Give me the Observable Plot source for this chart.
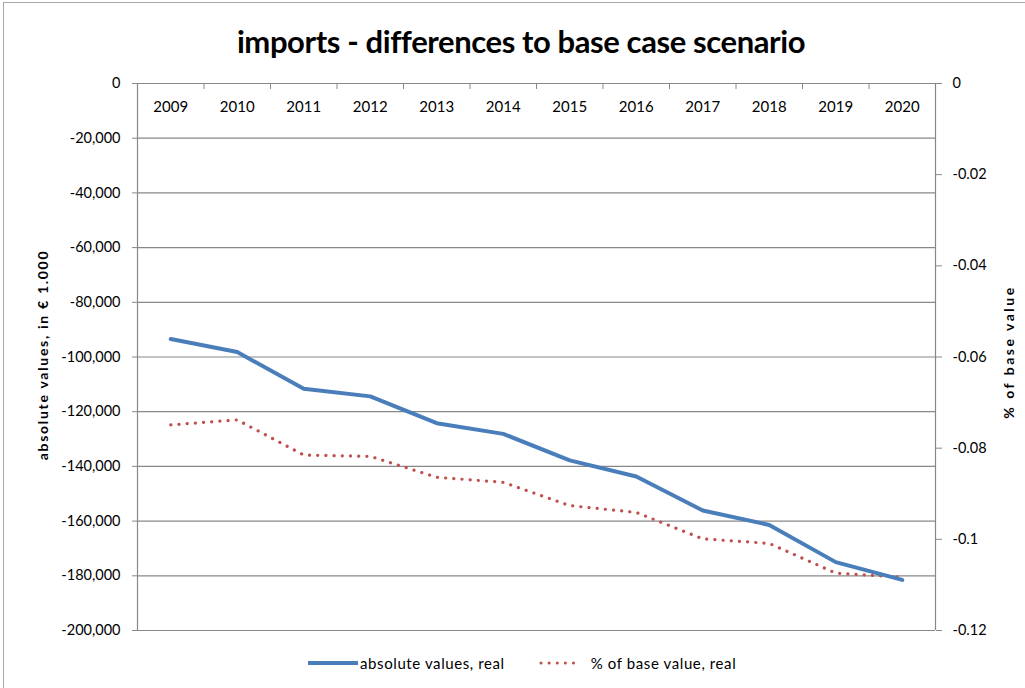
<!DOCTYPE html>
<html>
<head>
<meta charset="utf-8">
<script src="https://cdn.jsdelivr.net/npm/d3@7"></script>
<script src="https://cdn.jsdelivr.net/npm/@observablehq/plot@0.6"></script>
<style>
  html, body { margin: 0; padding: 0; background: #fff; }
  #wrap { position: relative; width: 1025px; height: 688px; overflow: hidden; font-family: Lato, "Open Sans", sans-serif; }
  #border { position: absolute; left: 3px; top: 2px; width: 1030px; height: 700px; border-left: 1px solid #a6a6a6; border-top: 1px solid #a6a6a6; box-sizing: border-box; }
  #chart { position: absolute; left: 0; top: 0; }
  #title { position: absolute; left: 0; width: 1042px; top: 22px; text-align: center; font-size: 31px; font-weight: 700; color: #000; letter-spacing: -0.4px; }
  .ytitle { position: absolute; font-size: 14px; font-weight: 700; color: #000; white-space: nowrap; transform: translate(-50%, -50%) rotate(-90deg); }
  #legend { position: absolute; top: 654px; left: 307px; font-size: 15px; letter-spacing: 0.6px; color: #000; display: flex; align-items: center; white-space: nowrap; }
</style>
</head>
<body>
<div id="wrap">
  <div id="border"></div>
  <div id="chart"></div>
  <div id="title">imports - differences to base case scenario</div>
  <div class="ytitle" style="left:42px; top:355px; letter-spacing:1.7px;">absolute values, in € 1.000</div>
  <div class="ytitle" style="left:1008px; top:352px; letter-spacing:2.5px;">% of base value</div>
  <div id="legend">
    <svg width="52" height="8" style="margin-right:1px"><line x1="1" y1="4" x2="51" y2="4" stroke="#4A7EBB" stroke-width="4"/></svg>
    <span>absolute values, real</span>
    <svg width="44" height="8" style="margin-left:34px; margin-right:8px"><line x1="2" y1="4" x2="42" y2="4" stroke="#C0504D" stroke-width="3" stroke-linecap="round" stroke-dasharray="0.1 8"/></svg>
    <span>% of base value, real</span>
  </div>
</div>
<script>
// ---- data ----
const years = [2009, 2010, 2011, 2012, 2013, 2014, 2015, 2016, 2017, 2018, 2019, 2020];
const absoluteValues = [-93400, -98200, -111600, -114400, -124200, -128100, -137800, -143700, -156100, -161400, -175000, -181500];
const pctOfBase = [-0.0749, -0.0738, -0.0815, -0.0818, -0.0864, -0.0875, -0.0926, -0.0941, -0.0999, -0.1009, -0.1074, -0.1083];
const leftTicks = [0, -20000, -40000, -60000, -80000, -100000, -120000, -140000, -160000, -180000, -200000];
const rightTicks = [0, -0.02, -0.04, -0.06, -0.08, -0.1, -0.12];
const absMin = -200000;
const pctMin = -0.12;

// ---- derived ----
const k = absMin / pctMin; // maps % axis onto absolute axis
const rows = years.map((y, i) => ({year: y, abs: absoluteValues[i], pct: pctOfBase[i]}));
const bounds = years.slice(1).map(y => y - 0.5);
const xDomain = [years[0] - 0.5, years[years.length - 1] + 0.5];
const loc = d3.formatLocale({decimal: ".", thousands: ",", grouping: [3], currency: ["", ""], minus: "-"});
const fmtAbs = loc.format(",");
const fmtPct = d => { const v = +(d / k).toFixed(4); return v === 0 ? "0" : String(v); };

const grid = "#888888";
const chart = Plot.plot({
  width: 1025,
  height: 688,
  marginLeft: 137,
  marginRight: 90,
  marginTop: 83,
  marginBottom: 58,
  style: {fontFamily: "Lato, 'Open Sans', sans-serif", fontSize: "14.5px", color: "#000", background: "transparent"},
  x: {domain: xDomain, axis: null},
  y: {domain: [absMin, 0], axis: null},
  marks: [
    Plot.ruleY(leftTicks, {stroke: grid, strokeWidth: 1.2}),
    Plot.ruleX(xDomain, {stroke: grid, strokeWidth: 1.2}),
    Plot.axisY(leftTicks, {anchor: "left", label: null, tickFormat: fmtAbs, tickSize: 5, tickPadding: 12, stroke: grid, fill: "#000", fontSize: 14.5}),
    Plot.axisY(rightTicks.map(p => p * k), {anchor: "right", label: null, tickFormat: fmtPct, tickSize: 6, tickPadding: 11, stroke: grid, fill: "#000", fontSize: 14.5}),
    Plot.axisX(bounds, {anchor: "top", label: null, tickSize: -5, tickFormat: () => "", stroke: grid}),
    Plot.text(years, {x: d => d, frameAnchor: "top", dy: 18, text: d => String(d), fill: "#000", fontSize: 15, letterSpacing: 0.5}),
    Plot.line(rows, {x: "year", y: d => d.pct * k, stroke: "#C0504D", strokeWidth: 3.2, strokeLinecap: "round", strokeDasharray: "0.1 8.1"}),
    Plot.line(rows, {x: "year", y: "abs", stroke: "#4A7EBB", strokeWidth: 4})
  ]
});
document.getElementById("chart").appendChild(chart);
</script>
</body>
</html>
